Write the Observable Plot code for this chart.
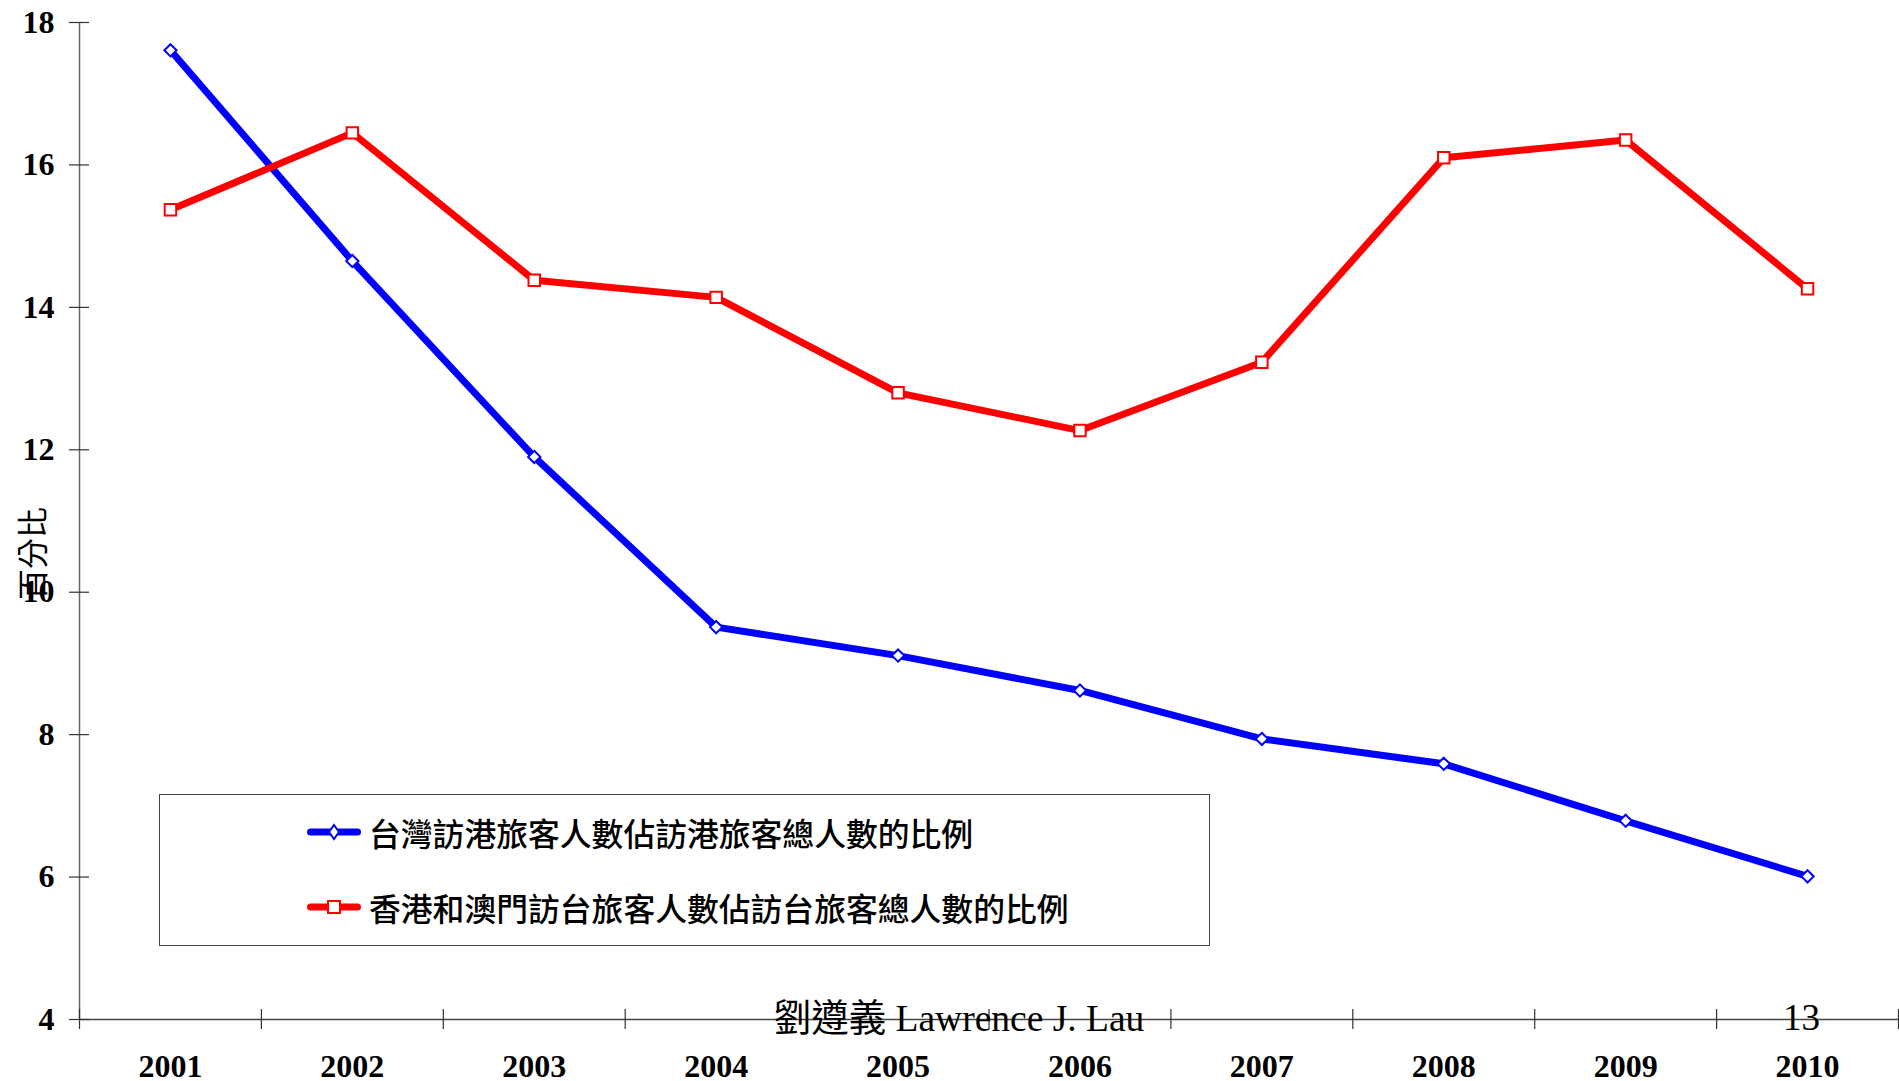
<!DOCTYPE html>
<html>
<head>
<meta charset="utf-8">
<script src="https://cdn.jsdelivr.net/npm/d3@7"></script>
<script src="https://cdn.jsdelivr.net/npm/@observablehq/plot@0.6"></script>
<style>
  body { margin: 0; background: #fff; }
  #wrap { position: relative; width: 1899px; height: 1081px; overflow: hidden; }
  #legend {
    position: absolute; left: 159px; top: 794px; width: 1051px; height: 152px;
    border: 1px solid #444; box-sizing: border-box; background: #fff;
    font-family: "Noto Sans CJK TC", "Noto Sans CJK SC", sans-serif; font-size: 31.8px; font-weight: 500; color: #000;
  }
  .row { position: absolute; left: 145px; display: flex; align-items: center; height: 40px; white-space: nowrap; }
  .row svg { margin-right: 6px; }
</style>
</head>
<body>
<div id="wrap"></div>
<script>
// ---- data ----
const years = [2001, 2002, 2003, 2004, 2005, 2006, 2007, 2008, 2009, 2010];
const taiwanShareOfHKVisitors = [17.61, 14.65, 11.90, 9.51, 9.11, 8.62, 7.94, 7.59, 6.79, 6.01];
const hkMacauShareOfTaiwanVisitors = [15.37, 16.45, 14.38, 14.14, 12.80, 12.27, 13.23, 16.10, 16.35, 14.26];
const seriesNames = ["台灣訪港旅客人數佔訪港旅客總人數的比例", "香港和澳門訪台旅客人數佔訪台旅客總人數的比例"];
const seriesColors = ["#0000ff", "#ff0000"];
const yTicks = [4, 6, 8, 10, 12, 14, 16, 18];
const yLabel = "百分比";
const footerText = "劉遵義 Lawrence J. Lau";
const pageNumber = "13";

// ---- derived ----
const xMin = years[0] - 0.5, xMax = years[years.length - 1] + 0.5;
const boundaries = d3.range(xMin, xMax + 0.001, 1);
const blue = years.map((year, i) => ({year, value: taiwanShareOfHKVisitors[i]}));
const red = years.map((year, i) => ({year, value: hkMacauShareOfTaiwanVisitors[i]}));
const tickFont = "Liberation Serif, Times New Roman, serif";

const chart = Plot.plot({
  width: 1899,
  height: 1081,
  marginLeft: 79,
  marginRight: 1,
  marginTop: 22,
  marginBottom: 62,
  style: {background: "white", overflow: "visible"},
  x: {domain: [xMin, xMax], axis: null},
  y: {domain: [4, 18], axis: null},
  marks: [
    // axis lines
    Plot.ruleX([xMin], {x: d => d, y1: 4, y2: 18, stroke: "#666", strokeWidth: 1.5}),
    Plot.ruleY([4], {y: d => d, x1: xMin, x2: xMax, stroke: "#444", strokeWidth: 1.5}),
    // tick marks crossing the axes
    Plot.ruleY(yTicks, {y: d => d, x1: xMin, x2: xMin, insetLeft: -10, insetRight: -10, stroke: "#333", strokeWidth: 1.2}),
    Plot.ruleX(boundaries, {x: d => d, y1: 4, y2: 4, insetTop: -10, insetBottom: -10, stroke: "#333", strokeWidth: 1.2}),
    // tick labels
    Plot.text(yTicks, {x: xMin, y: d => d, text: d => String(d), textAnchor: "end", dx: -25,
      fontSize: 32, fontWeight: "bold", fontFamily: tickFont, fill: "#000"}),
    Plot.text(years, {x: d => d, y: 4, text: d => String(d), dy: 47,
      fontSize: 32, fontWeight: "bold", fontFamily: tickFont, fill: "#000"}),
    // y label
    Plot.text([yLabel], {frameAnchor: "left", text: d => d, rotate: -90, dx: -45, dy: 79,
      fontSize: 31, fontFamily: "Noto Sans CJK TC", fill: "#000"}),
    // footer
    Plot.text([footerText], {frameAnchor: "bottom", text: d => d, dx: -30, dy: 11,
      fontSize: 37.5, fontFamily: "Liberation Serif, Noto Sans CJK TC", fill: "#000"}),
    Plot.text([pageNumber], {frameAnchor: "bottom-right", text: d => d, dx: -97, dy: 10, textAnchor: "middle",
      fontSize: 37, fontFamily: "Liberation Serif", fill: "#000"}),
    // series
    Plot.line(blue, {x: "year", y: "value", stroke: seriesColors[0], strokeWidth: 7}),
    Plot.line(red, {x: "year", y: "value", stroke: seriesColors[1], strokeWidth: 7}),
    Plot.dot(blue, {x: "year", y: "value", symbol: "diamond2", r: 5.5, stroke: seriesColors[0], fill: "white", strokeWidth: 2}),
    Plot.dot(red, {x: "year", y: "value", symbol: "square2", r: 7.3, stroke: seriesColors[1], fill: "white", strokeWidth: 2})
  ]
});

const wrap = document.getElementById("wrap");
wrap.appendChild(chart);

// legend inside the plot area
const legend = document.createElement("div");
legend.id = "legend";
const sym = [
  `<rect x="2" y="6.5" width="54" height="7" rx="3.5" fill="${seriesColors[0]}"/><path d="M29 3 L34 10 L29 17 L24 10 Z" fill="white" stroke="${seriesColors[0]}" stroke-width="2"/>`,
  `<rect x="2" y="6.5" width="54" height="7" rx="3.5" fill="${seriesColors[1]}"/><rect x="23" y="4" width="12" height="12" fill="white" stroke="${seriesColors[1]}" stroke-width="2"/>`
];
const rowTops = [17, 92];
seriesNames.forEach((name, i) => {
  const row = document.createElement("div");
  row.className = "row";
  row.style.top = rowTops[i] + "px";
  row.innerHTML = `<svg width="58" height="20">${sym[i]}</svg><span>${name}</span>`;
  legend.appendChild(row);
});
wrap.appendChild(legend);
</script>
</body>
</html>
